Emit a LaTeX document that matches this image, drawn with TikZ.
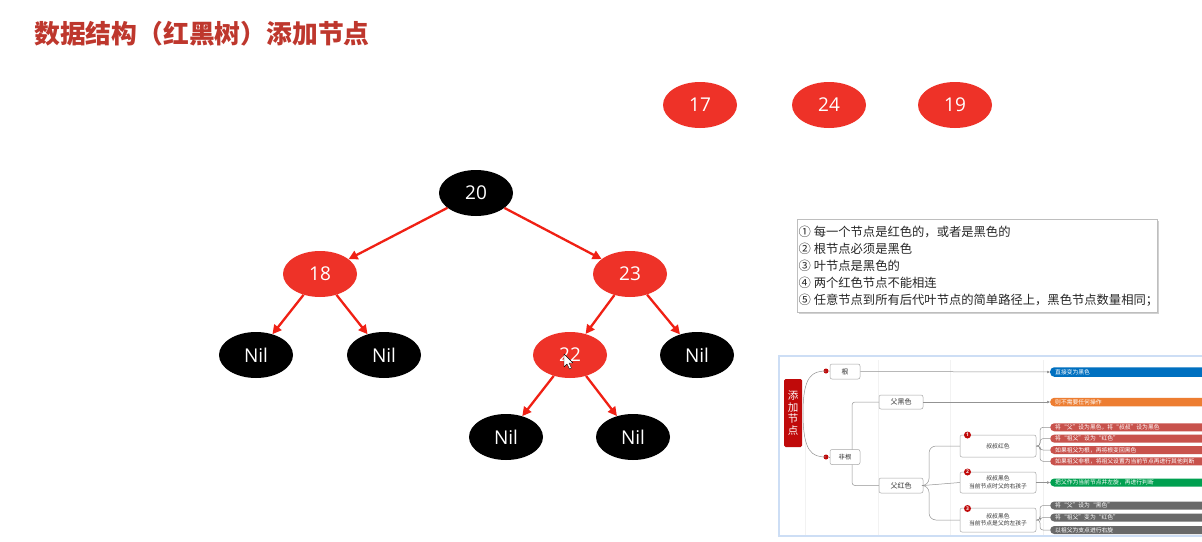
\documentclass[tikz,border=0pt]{standalone}
\usepackage{fontspec}
\setmainfont{Open Sans}
\newfontfamily\cjk{Noto Sans CJK SC}
\usetikzlibrary{arrows.meta,shapes.geometric}
\definecolor{nodered}{RGB}{238,50,40}
\definecolor{edgered}{RGB}{240,32,20}
\definecolor{titlered}{RGB}{190,55,45}
\definecolor{mmblue}{RGB}{0,112,192}
\definecolor{mmorange}{RGB}{237,125,49}
\definecolor{mmred}{RGB}{200,82,76}
\definecolor{mmgreen}{RGB}{0,160,80}
\definecolor{mmgray}{RGB}{105,105,105}
\definecolor{mmdark}{RGB}{192,10,10}
\definecolor{frameblue}{RGB}{205,222,245}
\definecolor{rulegray}{RGB}{190,190,190}
\tikzset{
  rbnode/.style={ellipse, minimum width=74pt, minimum height=46pt, inner sep=0pt, text=white, font=\fontsize{19}{19}\selectfont},
  rednode/.style={rbnode, fill=nodered},
  blacknode/.style={rbnode, fill=black},
  treeedge/.style={draw=edgered, line width=2.3pt, -{Triangle[length=9pt,width=9pt]}},
  mmbox/.style={draw=gray!70, fill=white, rounded corners=2pt, line width=0.5pt, inner sep=1pt, align=center, font=\cjk\fontsize{6.3}{8}\selectfont, text=black!80},
  mmline/.style={draw=gray!85, line width=0.5pt},
  mmarrow/.style={mmline, -{Triangle[length=3pt,width=2.5pt]}},
  mmbar/.style={anchor=west, rounded corners=4pt, minimum height=8pt, inner ysep=0pt, inner xsep=5pt, text width=160pt, align=left, text=white, font=\cjk\fontsize{5.8}{6}\selectfont},
  mmdot/.style={circle, fill=mmdark, minimum size=5pt, inner sep=0pt},
  mmnum/.style={circle, fill=mmdark, minimum size=7pt, inner sep=0pt, text=white, font=\fontsize{5}{5}\selectfont\bfseries}
}
\begin{document}
\begin{tikzpicture}[x=1pt,y=-1pt]
\useasboundingbox (0,0) rectangle (1202,541);
\fill[white] (0,0) rectangle (1202,541);

% title
\node[anchor=west, inner sep=0pt, text=titlered, font=\cjk\bfseries\fontsize{25.8}{26}\selectfont] (title) at (34,34) {数据结构（红黑树）添加节点};

% top red nodes
\node[rednode] (n17) at (700,105) {17};
\node[rednode] (n24) at (829,105) {24};
\node[rednode] (n19) at (955,105) {19};

% tree
\node[blacknode] (n20) at (476,193) {20};
\node[rednode] (n18) at (320,274) {18};
\node[rednode] (n23) at (630,274) {23};
\node[blacknode] (nil1) at (256,355) {Nil};
\node[blacknode] (nil2) at (384,355) {Nil};
\node[rednode] (n22) at (570,355) {22};
\node[blacknode] (nil3) at (697,355) {Nil};
\node[blacknode] (nil4) at (506,437) {Nil};
\node[blacknode] (nil5) at (633,437) {Nil};

\draw[treeedge] (n20) -- (n18);
\draw[treeedge] (n20) -- (n23);
\draw[treeedge] (n18) -- (nil1);
\draw[treeedge] (n18) -- (nil2);
\draw[treeedge] (n23) -- (n22);
\draw[treeedge] (n23) -- (nil3);
\draw[treeedge] (n22) -- (nil4);
\draw[treeedge] (n22) -- (nil5);

% mouse cursor
\draw[fill=white, line width=0.4pt, line join=round] (564,354) -- (564,367) -- (567,364) -- (569.5,369) -- (571.5,368) -- (569,363) -- (573,363) -- cycle;

% rules box
\fill[black!18] (799,221) rectangle (1159,314);
\node[draw=rulegray, fill=white, line width=0.5pt, minimum width=360pt, minimum height=93pt, anchor=north west, inner sep=0pt] (rules) at (797,219) {};
\node[anchor=north west, inner sep=0pt, align=left, text=black!85, font=\cjk\fontsize{12.3}{17}\selectfont] (rulestext) at (798.5,226)
{① 每一个节点是红色的，或者是黑色的\\
② 根节点必须是黑色\\
③ 叶节点是黑色的\\
④ 两个红色节点不能相连\\
⑤ 任意节点到所有后代叶节点的简单路径上，黑色节点数量相同；};

% mind map
\begin{scope}
\clip (776,350) rectangle (1202,541);
\draw[frameblue, line width=2.2pt] (779,356) rectangle (1215,536);
\draw[black!5, line width=0.5pt] (805,440) -- (805,535);
\draw[black!5, line width=0.5pt] (878,360) -- (878,535);
\draw[black!5, line width=0.5pt] (950,360) -- (950,535);
\draw[black!6, line width=0.5pt] (1043,360) -- (1043,535);

\node[fill=mmdark, rounded corners=1.5pt, minimum width=18pt, minimum height=68pt, inner sep=0pt, align=center, text=white, font=\cjk\fontsize{10.5}{11.6}\selectfont] (root) at (793,413) {添\\加\\节\\点};

\node[mmdot] (d1) at (826,371) {};
\node[mmdot] (d2) at (826,457) {};
\draw[mmline] (803,413) .. controls (803,376) and (812,371) .. (d1.center);
\draw[mmline] (803,413) .. controls (803,452) and (812,457) .. (d2.center);

\coordinate (sp1) at (852,457);
\draw[mmline, rounded corners=3pt] (sp1) |- (879,402);
\draw[mmline, rounded corners=3pt] (sp1) |- (879,485.5);

\node[mmbox, minimum width=30pt, minimum height=15pt, font=\cjk\fontsize{6.8}{8}\selectfont] (gen) at (845,371.5) {根};
\node[mmbox, minimum width=30pt, minimum height=15pt] (feigen) at (845,457) {非根};
\draw[mmline] (d1) -- (gen);
\draw[mmline] (d2) -- (feigen);

\node[mmbox, minimum width=44pt, minimum height=14pt, font=\cjk\fontsize{7}{8}\selectfont] (fhei) at (901,402) {父黑色};
\node[mmbox, minimum width=44pt, minimum height=15pt, font=\cjk\fontsize{7}{8}\selectfont] (fhong) at (901,485.5) {父红色};

\node[mmbox, minimum width=76pt, minimum height=22pt, font=\cjk\fontsize{5.8}{7}\selectfont] (b1) at (998,446) {叔叔红色};
\node[mmbox, minimum width=76pt, minimum height=21pt, font=\cjk\fontsize{5.8}{7.5}\selectfont] (b2) at (998,482.5) {叔叔黑色\\当前节点时父的右孩子};
\node[mmbox, minimum width=76pt, minimum height=24pt, font=\cjk\fontsize{5.8}{7.5}\selectfont] (b3) at (998,520) {叔叔黑色\\当前节点是父的左孩子};
\node[mmnum] (c1) at (967.5,435) {1};
\node[mmnum] (c2) at (967.5,472) {2};
\node[mmnum] (c3) at (967.5,508.5) {3};

\coordinate (sp2) at (929,485.5);
\draw[mmline, rounded corners=7pt] (fhong.east) -- (sp2) |- (b1.west);
\draw[mmline, rounded corners=7pt] (fhong.east) -- (sp2) |- (b3.west);
\draw[mmline] (fhong.east) -- (b2.west);

\node[mmbar, fill=mmblue, minimum height=9.5pt] (bar1) at (1050,372) {直接变为黑色};
\node[mmbar, fill=mmorange, minimum height=8.5pt] (bar2) at (1050,402) {则不需要任何操作};
\node[mmbar, fill=mmred] (r1) at (1050,427.3) {将“父”设为黑色，将“叔叔”设为黑色};
\node[mmbar, fill=mmred] (r2) at (1050,438.6) {将“祖父”设为“红色”};
\node[mmbar, fill=mmred] (r3) at (1050,450) {如果祖父为根，再将根变回黑色};
\node[mmbar, fill=mmred] (r4) at (1050,461.3) {如果祖父非根，将祖父设置为当前节点再进行其他判断};
\node[mmbar, fill=mmgreen] (g1) at (1050,482.5) {把父作为当前节点并左旋，再进行判断};
\node[mmbar, fill=mmgray] (k1) at (1050,505.5) {将“父”设为“黑色”};
\node[mmbar, fill=mmgray] (k2) at (1050,517.5) {将“祖父”变为“红色”};
\node[mmbar, fill=mmgray] (k3) at (1050,530) {以祖父为支点进行右旋};

\draw[mmarrow] (gen.east) -- (bar1.west);
\draw[mmarrow] (fhei.east) -- (bar2.west);
\draw[mmarrow] (b2.east) -- (g1.west);

\coordinate (sp3) at (1040,446);
\foreach \t in {r1,r2,r3,r4}{\draw[mmline, rounded corners=3pt] (b1.east) -- (sp3) |- (\t.west);}
\coordinate (sp4) at (1040,520);
\foreach \t in {k1,k2,k3}{\draw[mmline, rounded corners=3pt] (b3.east) -- (sp4) |- (\t.west);}
\end{scope}
\end{tikzpicture}
\end{document}
